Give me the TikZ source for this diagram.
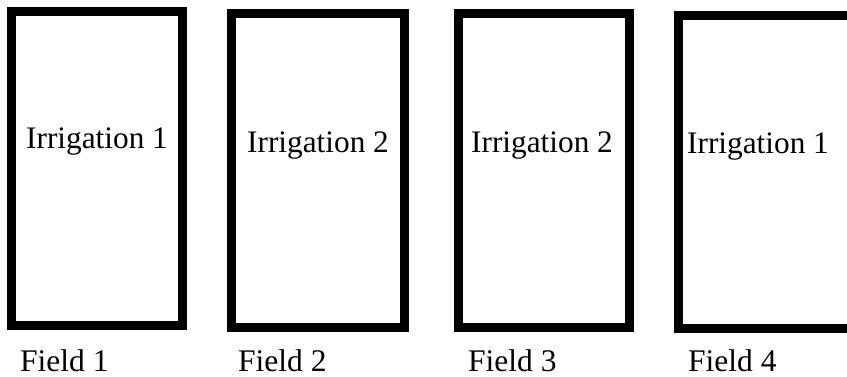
\documentclass[tikz,border=0pt]{standalone}
\usepackage{fontspec}
\setmainfont{Liberation Serif}
\begin{document}
\begin{tikzpicture}[x=1pt,y=-1pt,
  fieldbox/.style={draw=black, line width=9pt, fill=white, inner sep=0pt, outer sep=0pt},
  irrtext/.style={anchor=base west, inner sep=0pt, font=\fontsize{31.3}{36}\selectfont},
  fieldlabel/.style={anchor=base west, inner sep=0pt, font=\fontsize{31.5}{36}\selectfont}]
\useasboundingbox (0,0) rectangle (847,377);
\fill[white] (0,0) rectangle (847,377);
\node[fieldbox, minimum width=171pt, minimum height=314pt] (b1) at (97,168.5) {};
\node[fieldbox, minimum width=173pt, minimum height=314pt] (b2) at (318,170.5) {};
\node[fieldbox, minimum width=171pt, minimum height=314pt] (b3) at (544,170.5) {};
\begin{scope}
\clip (0,0) rectangle (847,377);
\node[fieldbox, minimum width=180pt, minimum height=313pt] (b4) at (768.5,172) {};
\end{scope}
\node[irrtext] (t1) at (26,149) {Irrigation 1};
\node[irrtext] (t2) at (247,153) {Irrigation 2};
\node[irrtext] (t3) at (471,153) {Irrigation 2};
\node[irrtext] (t4) at (687,154) {Irrigation 1};
\node[fieldlabel] (f1) at (20,371) {Field 1};
\node[fieldlabel] (f2) at (238,371) {Field 2};
\node[fieldlabel] (f3) at (468,371) {Field 3};
\node[fieldlabel] (f4) at (688,371) {Field 4};
\end{tikzpicture}
\end{document}
